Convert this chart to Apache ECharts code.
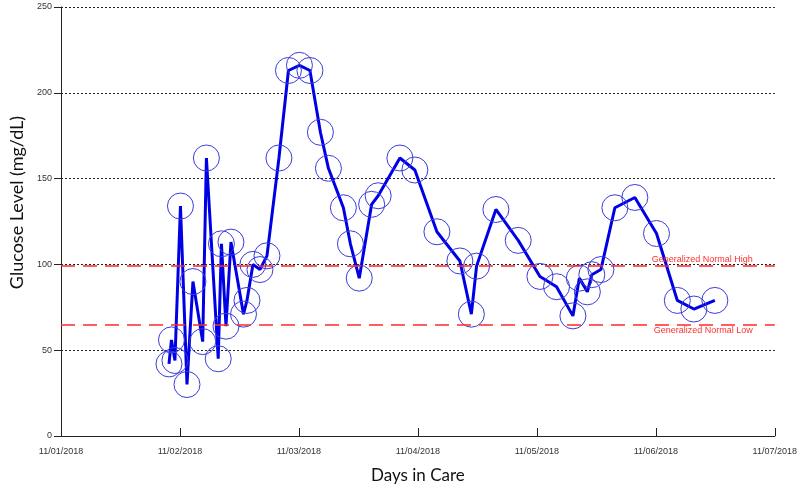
<!DOCTYPE html>
<html>
<head>
<meta charset="utf-8">
<script src="https://cdn.jsdelivr.net/npm/echarts@6/dist/echarts.min.js"></script>
<style>html,body{margin:0;padding:0;background:#fff}#c{width:800px;height:496px}</style>
</head>
<body>
<div id="c"></div>
<script>
// Reading times (Nov 2018, local) and glucose values (mg/dL)
const times = [
  "11-01 21:47","11-01 22:17","11-01 22:59","11-02 00:06","11-02 01:25","11-02 02:37",
  "11-02 04:35","11-02 05:20","11-02 07:43","11-02 08:22","11-02 09:17","11-02 10:17",
  "11-02 12:49","11-02 13:31","11-02 14:43","11-02 16:08","11-02 17:33","11-02 19:58",
  "11-02 21:53","11-03 00:06","11-03 02:13","11-03 04:20","11-03 05:57","11-03 08:58",
  "11-03 10:23","11-03 12:10","11-03 14:40","11-03 15:59","11-03 20:22","11-03 23:23",
  "11-04 03:50","11-04 08:28","11-04 10:47","11-04 11:50","11-04 15:44","11-04 20:14",
  "11-05 00:37","11-05 03:58","11-05 07:16","11-05 08:34","11-05 10:11","11-05 11:05",
  "11-05 12:55","11-05 15:44","11-05 19:46","11-06 00:08","11-06 04:20","11-06 07:40",
  "11-06 11:54"
];
const glucose = [
  42,56,44,134,30,90,
  55,162,45,112,64,113,
  71,79,100,97,105,162,
  213,216,213,177,156,133,
  112,92,135,140,162,155,
  119,102,71,99,132,114,
  93,87,70,92,84,94,
  97,133,139,118,79,74,
  79
];
const tickLabels = ["11/01/2018","11/02/2018","11/03/2018","11/04/2018","11/05/2018","11/06/2018","11/07/2018"];
const normalHigh = 99;
const normalLow = 65;
const normalHighLabel = "Generalized Normal High";
const normalLowLabel = "Generalized Normal Low";

// hours since 11/01/2018 00:00
function toHours(s){
  const [md, hm] = s.split(' ');
  const day = parseInt(md.split('-')[1], 10);
  const [h, m] = hm.split(':').map(Number);
  return (day - 1) * 24 + h + m / 60;
}
const data = times.map((t, i) => [toHours(t), glucose[i]]);

const chart = echarts.init(document.getElementById('c'), null, {renderer: 'canvas'});
const labelFont = {fontFamily: 'Liberation Sans, Arial, sans-serif', fontSize: 9, color: '#333'};
chart.setOption({
  animation: false,
  backgroundColor: '#fff',
  grid: {left: 61, right: 25, top: 7, bottom: 60},
  xAxis: {
    type: 'value', min: 0, max: 144, interval: 24,
    name: 'Days in Care', nameLocation: 'middle', nameGap: 31,
    nameTextStyle: {fontFamily: 'Lato, sans-serif', fontSize: 17, color: '#111'},
    axisLine: {lineStyle: {color: '#222', width: 1}},
    axisTick: {inside: true, length: 8, lineStyle: {color: '#222'}},
    axisLabel: Object.assign({margin: 11, formatter: v => tickLabels[Math.round(v / 24)]}, labelFont),
    splitLine: {show: false}
  },
  yAxis: {
    type: 'value', min: 0, max: 250, interval: 50,
    name: 'Glucose Level (mg/dL)', nameLocation: 'middle', nameGap: 32,
    nameTextStyle: {fontFamily: 'Lato, sans-serif', fontSize: 18, color: '#111', padding: [0, 0, 0, 38]},
    axisLine: {show: true, lineStyle: {color: '#222', width: 1}},
    axisTick: {show: true, length: 7, lineStyle: {color: '#222'}},
    axisLabel: Object.assign({margin: 9}, labelFont),
    splitLine: {show: true, lineStyle: {color: '#222', width: 1, type: [2, 2]}}
  },
  series: [{
    type: 'line',
    data: data,
    showAllSymbol: true,
    symbol: 'circle',
    symbolSize: 26,
    itemStyle: {color: 'rgba(0,0,0,0)', borderColor: '#3b3bdc', borderWidth: 1},
    lineStyle: {color: '#0000e6', width: 3},
    z: 3,
    markLine: {
      silent: true,
      symbol: ['none', 'none'],
      data: [
        {yAxis: normalHigh, label: {formatter: normalHighLabel, position: 'insideEndTop', distance: [22, 2]}},
        {yAxis: normalLow, label: {formatter: normalLowLabel, position: 'insideEndBottom', distance: [22, 2]}}
      ],
      lineStyle: {color: '#ff2a2a', width: 1.5, type: [14, 8]},
      label: {color: '#ff3030', fontFamily: 'Liberation Sans, Arial, sans-serif', fontSize: 9}
    }
  }]
});
</script>
</body>
</html>
